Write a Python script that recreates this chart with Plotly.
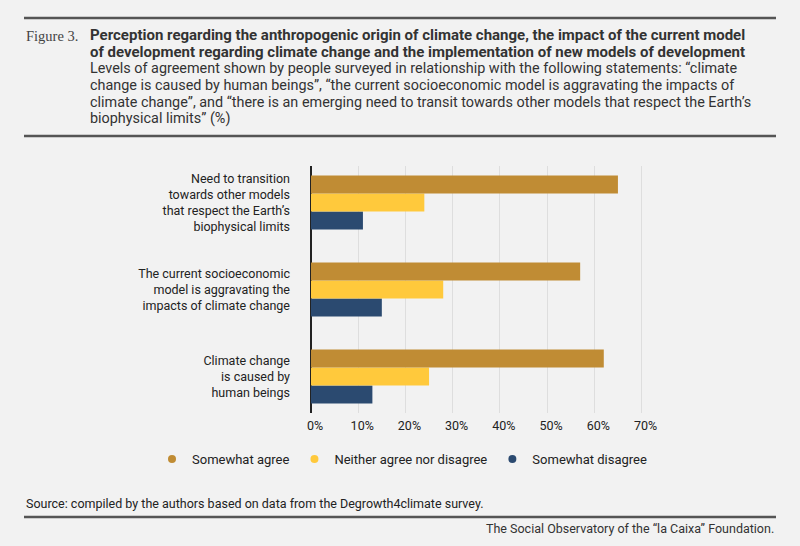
import plotly.graph_objects as go

# statements, bottom to top as they appear on the chart
statements = [
    "Climate change<br>is caused by<br>human beings",
    "The current socioeconomic<br>model is aggravating the<br>impacts of climate change",
    "Need to transition<br>towards other models<br>that respect the Earth’s<br>biophysical limits",
]
somewhat_agree = [62, 57, 65]
neither = [25, 28, 24]
somewhat_disagree = [13, 15, 11]

x_ticks = [0, 10, 20, 30, 40, 50, 60, 70]
x_tick_labels = ["0%", "10%", "20%", "30%", "40%", "50%", "60%", "70%"]

title_lines = [
    "Perception regarding the anthropogenic origin of climate change, the impact of the current model",
    "of development regarding climate change and the implementation of new models of development",
]
subtitle_lines = [
    "Levels of agreement shown by people surveyed in relationship with the following statements: “climate",
    "change is caused by human beings”, “the current socioeconomic model is aggravating the impacts of",
    "climate change”, and “there is an emerging need to transit towards other models that respect the Earth’s",
    "biophysical limits” (%)",
]
source_text = "Source: compiled by the authors based on data from the Degrowth4climate survey."
credit_text = "The Social Observatory of the “la Caixa” Foundation."

series = [
    ("Somewhat agree", somewhat_agree, "#c08c34"),
    ("Neither agree nor disagree", neither, "#ffc93c"),
    ("Somewhat disagree", somewhat_disagree, "#2b4a70"),
]

W, H = 800, 546
L, R, T, B = 311, 149, 166, 133
PW, PH = W - L - R, H - T - B


def px_x(px):
    return (px - L) / PW


def px_y(py):
    return (H - B - py) / PH


FONT = "Roboto, Arial, sans-serif"

fig = go.Figure()

# bars: first trace sits lowest inside each group, so add them reversed
for name, vals, color in reversed(series):
    fig.add_trace(
        go.Bar(
            name=name,
            y=statements,
            x=vals,
            orientation="h",
            marker={"color": color, "line": {"width": 0}},
            showlegend=False,
            hovertemplate="%{x}%<extra>" + name + "</extra>",
        )
    )

# legend entries with round markers
for name, vals, color in series:
    fig.add_trace(
        go.Scatter(
            name=name,
            x=[None],
            y=[None],
            mode="markers",
            marker={"color": color, "size": 8, "symbol": "circle"},
        )
    )

annotations = [
    dict(
        text="Figure 3.",
        x=px_x(24), y=px_y(36), xanchor="left", yanchor="middle",
        font={"family": "Liberation Serif, DejaVu Serif, serif", "size": 14.5, "color": "#444"},
    ),
    dict(
        text=source_text,
        x=px_x(24), y=px_y(503), xanchor="left", yanchor="middle",
        font={"family": FONT, "size": 12.5, "color": "#222"},
    ),
    dict(
        text=credit_text,
        x=px_x(776), y=px_y(528), xanchor="right", yanchor="middle",
        font={"family": FONT, "size": 12.5, "color": "#333"},
    ),
]
for line, py in zip(title_lines, [35, 52]):
    annotations.append(
        dict(
            text="<b>" + line + "</b>",
            x=px_x(88), y=px_y(py), xanchor="left", yanchor="middle",
            font={"family": FONT, "size": 15, "color": "#333"},
        )
    )
for line, py in zip(subtitle_lines, [69, 85.6, 102.2, 118.8]):
    annotations.append(
        dict(
            text=line,
            x=px_x(88), y=px_y(py), xanchor="left", yanchor="middle",
            font={"family": FONT, "size": 14.4, "color": "#333"},
        )
    )
for a in annotations:
    a.update(xref="paper", yref="paper", showarrow=False)

shapes = []
for py in (18, 136, 517):
    shapes.append(
        dict(
            type="line", xref="paper", yref="paper",
            x0=px_x(24), x1=px_x(776), y0=px_y(py), y1=px_y(py),
            line={"color": "#555", "width": 2.5},
        )
    )

fig.update_layout(
    width=W,
    height=H,
    margin={"l": L, "r": R, "t": T, "b": B, "pad": 0},
    paper_bgcolor="#f2f2f2",
    plot_bgcolor="#f2f2f2",
    barmode="group",
    bargap=0.38,
    bargroupgap=0,
    font={"family": FONT, "size": 12, "color": "#222"},
    xaxis={
        "range": [0, 72],
        "tickvals": x_ticks,
        "ticktext": x_tick_labels,
        "showgrid": True,
        "gridcolor": "#dedede",
        "gridwidth": 1,
        "zeroline": True,
        "zerolinecolor": "#222",
        "zerolinewidth": 1.5,
        "showline": False,
        "ticks": "",
        "ticklabelstandoff": 3,
        "ticklabelshift": 4,
        "tickfont": {"size": 12.5, "color": "#222"},
        "fixedrange": True,
    },
    yaxis={
        "type": "category",
        "range": [-0.42, 2.42],
        "showgrid": False,
        "zeroline": False,
        "showline": False,
        "ticks": "",
        "ticklabelstandoff": 20,
        "tickfont": {"size": 12.5, "color": "#222"},
        "fixedrange": True,
    },
    showlegend=True,
    legend={
        "orientation": "h",
        "x": px_x(152),
        "y": px_y(459),
        "xanchor": "left",
        "yanchor": "middle",
        "font": {"size": 13, "color": "#222"},
        "itemwidth": 30,
        "bgcolor": "rgba(0,0,0,0)",
    },
    annotations=annotations,
    shapes=shapes,
)

# drop the default page margin so the figure sits at the window's corner
fig.write_html(
    "out.html",
    config={"displayModeBar": False},
    post_script="document.body.style.margin='0';",
)
